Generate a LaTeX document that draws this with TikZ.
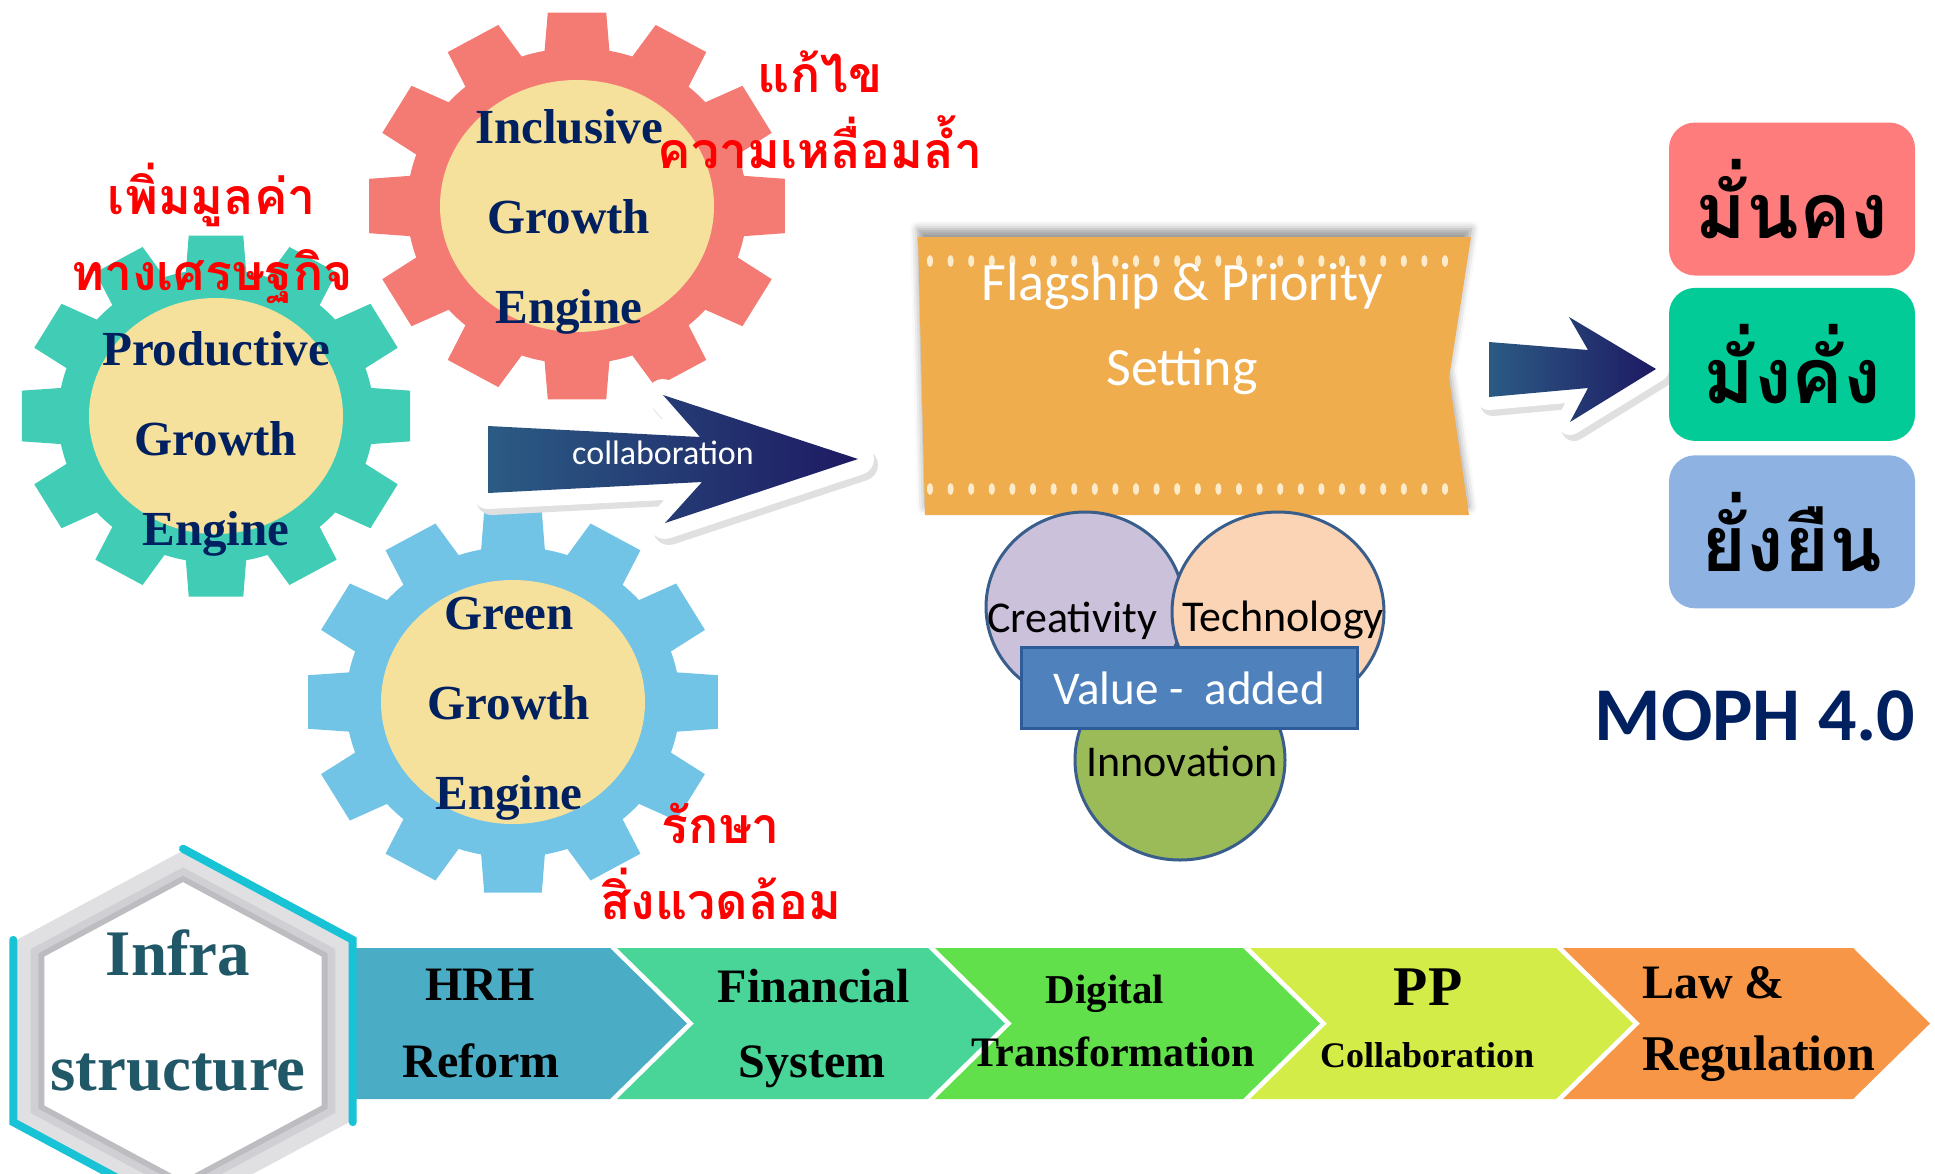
\documentclass[tikz,border=0pt]{standalone}
\usepackage{fontspec}
\setmainfont{Liberation Serif}
\newfontfamily\thaifont[Script=Thai]{Loma}
\newfontfamily\calib{Carlito}
\usetikzlibrary{positioning, shadows.blur}

\definecolor{gearred}{HTML}{F47B74}
\definecolor{gearteal}{HTML}{41CDB5}
\definecolor{gearblue}{HTML}{71C4E6}
\definecolor{gearcore}{HTML}{F5E09C}
\definecolor{navytext}{HTML}{002060}
\definecolor{flagorange}{HTML}{EFAD4E}
\definecolor{flagdot}{HTML}{FBEBCB}
\definecolor{arrowlight}{HTML}{2B5B84}
\definecolor{arrowdark}{HTML}{1E1A63}
\definecolor{boxred}{HTML}{FF7C7C}
\definecolor{boxgreen}{HTML}{02CB97}
\definecolor{boxblue}{HTML}{8EB3E2}
\definecolor{vennpurple}{HTML}{CCC1DA}
\definecolor{vennpeach}{HTML}{FAD4B4}
\definecolor{venngreen}{HTML}{9BBB59}
\definecolor{vennline}{HTML}{3A5E8C}
\definecolor{valuefill}{HTML}{4F81BD}
\definecolor{valueline}{HTML}{2E5C99}
\definecolor{chevA}{HTML}{4BACC6}
\definecolor{chevB}{HTML}{48D597}
\definecolor{chevC}{HTML}{62E04C}
\definecolor{chevD}{HTML}{D4EC48}
\definecolor{chevE}{HTML}{F79646}
\definecolor{infrateal}{HTML}{215868}
\definecolor{hexteal}{HTML}{19C3D6}
\definecolor{hexA}{HTML}{E0E0E3}
\definecolor{hexB}{HTML}{D0D0D4}
\definecolor{hexC}{HTML}{BCBCC1}

% centre, tip radius, root radius, colour
\newcommand{\gear}[4]{%
  \fill[#4, shift={#1}, yscale=0.93] (-11:#3)
    \foreach \a in {0,30,...,330} {
      -- (\a-11:#3) -- (\a-8:#2) -- (\a+8:#2) -- (\a+11:#3)
      arc[start angle=\a+11, end angle=\a+19, radius=#3]
    } -- cycle;
}

\begin{document}
\begin{tikzpicture}[x=1pt, y=-1pt, inner sep=0pt,
    gearlabel/.style={font=\bfseries\fontsize{49}{90}\selectfont, text=navytext, align=center},
    redthai/.style={font=\thaifont\bfseries\fontsize{50}{76}\selectfont, text=red, align=center},
    goalbox/.style={rounded corners=26pt, minimum width=246pt, minimum height=153pt,
        font=\thaifont\bfseries\fontsize{77}{80}\selectfont},
    venn/.style={draw=vennline, line width=3pt},
    vennlabel/.style={font=\calib\fontsize{44}{48}\selectfont, anchor=base},
    chevlabel/.style={font=\bfseries\fontsize{48}{50}\selectfont, anchor=base},
    blockarrow/.style={left color=arrowlight, right color=arrowdark},
    glow/.style={preaction={draw=black!12, line width=#1, line join=round,
        transform canvas={shift={(4pt,-6pt)}}},
      preaction={draw=white, line width=#1, line join=round}}]
\useasboundingbox (0,0) rectangle (1935,1173);

\gear{(577,206)}{210}{170}{gearred}
\fill[gearcore] (577,206) ellipse [x radius=137, y radius=126];
\gear{(216,416)}{196}{158}{gearteal}
\fill[gearcore] (216,416) ellipse [x radius=127, y radius=118];
\gear{(513,702)}{207}{167}{gearblue}
\fill[gearcore] (513,702) ellipse [x radius=132, y radius=122];

\node[gearlabel] (inclusive) at (569,222) {Inclusive\\Growth\\Engine};
\node[gearlabel] (productive) at (216,444) {Productive\\Growth\\Engine};
\node[gearlabel] (green) at (509,709) {Green\\Growth\\Engine};

\node[redthai] (econ) at (212,233) {เพิ่มมูลค่า\\ทางเศรษฐกิจ};
\node[redthai] (gap) at (820,110) {แก้ไข\\ความเหลื่อมล้ำ};
\node[redthai] (envir) at (721,861) {รักษา\\สิ่งแวดล้อม};

\path[blockarrow, glow=32pt] (488,426) -- (700,437) -- (663,395) -- (858,459)
  -- (665,523) -- (702,482) -- (488,493) -- cycle;
\node[font=\calib\fontsize{34}{36}\selectfont, text=white] (collab) at (663,453) {collaboration};

\fill[flagorange, blur shadow={shadow xshift=0pt, shadow yshift=8pt, shadow blur radius=8pt}]
  (918,237) -- (1471,237) -- (1449,378) -- (1469,515) -- (925,515) -- cycle;
\foreach \i in {0,...,25} {
  \fill[flagdot] (930+20.6*\i,261) ellipse [x radius=3, y radius=6];
  \fill[flagdot] (930+20.6*\i,489) ellipse [x radius=3, y radius=6];
}
\node[font=\calib\fontsize{54}{85}\selectfont, text=white, align=center] (flagship) at (1182,329)
  {Flagship \& Priority\\Setting};

\path[blockarrow, glow=26pt] (1489,342) -- (1588,350) -- (1569,317) -- (1656,369)
  -- (1570,422) -- (1588,388) -- (1489,397) -- cycle;

\node[goalbox, fill=boxred] (stable) at (1792,199) {มั่นคง};
\node[goalbox, fill=boxgreen, below=12pt of stable] (wealthy) {มั่งคั่ง};
\node[goalbox, fill=boxblue, below=14pt of wealthy] (lasting) {ยั่งยืน};

\draw[venn, fill=vennpurple] (1085,607) ellipse [x radius=99, y radius=95];
\draw[venn, fill=vennpeach] (1278,612) ellipse [x radius=106, y radius=100];
\draw[venn, fill=venngreen] (1180,760) ellipse [x radius=105, y radius=100];
\node[vennlabel] (creativity) at (1072,632) {Creativity};
\node[vennlabel] (technology) at (1283,631) {Technology};
\node[vennlabel] (innovation) at (1182,776) {Innovation};
\node[draw=valueline, line width=3pt, fill=valuefill, minimum width=336pt, minimum height=81pt,
  font=\calib\fontsize{47}{50}\selectfont, text=white] (value) at (1189,688) {Value -~ added};

\node[font=\calib\bfseries\fontsize{76}{80}\selectfont, text=navytext, anchor=base] (moph)
  at (1755,740) {MOPH 4.0};

\foreach \l/\r/\n/\c in {355/610/0/chevA, 617/928/77/chevB, 935/1243/77/chevC,
    1250/1556/77/chevD, 1563/1853/77/chevE}
  \fill[\c] (\l,948) -- (\r,948) -- (\r+77,1023.5) -- (\r,1099) -- (\l,1099)
    -- (\l+\n,1023.5) -- cycle;

\node[chevlabel] (hrh) at (480,1000) {HRH};
\node[chevlabel] (reform) at (481,1077) {Reform};
\node[chevlabel] (financial) at (814,1002) {Financial};
\node[chevlabel] (system) at (812,1077) {System};
\node[chevlabel, font=\bfseries\fontsize{41}{44}\selectfont] (digital) at (1105,1003) {Digital};
\node[chevlabel, font=\bfseries\fontsize{42}{44}\selectfont] (transform) at (1113,1066) {Transformation};
\node[chevlabel, font=\bfseries\fontsize{56}{60}\selectfont] (pp) at (1428,1005) {PP};
\node[chevlabel, font=\bfseries\fontsize{36}{40}\selectfont] (ppcollab) at (1427,1067) {Collaboration};
\node[chevlabel, anchor=base west] (law) at (1642,998) {Law \&};
\node[chevlabel, anchor=base west, font=\bfseries\fontsize{50}{54}\selectfont] (regulation) at (1642,1070) {Regulation};

\begin{scope}[shift={(183,1031)}, yscale=0.93]
  \foreach \r/\c in {194/hexA, 176/hexB, 167/hexC, 160/white}
    \fill[\c] (90:\r) -- (30:\r) -- (-30:\r) -- (-90:\r) -- (-150:\r) -- (150:\r) -- cycle;
  \draw[hexteal, line width=8pt, line cap=round] (-90:196) -- (-30:196) -- (30:196);
  \draw[hexteal, line width=8pt, line cap=round] (-150:196) -- (150:196) -- (90:196);
\end{scope}
\node[font=\bfseries\fontsize{65}{115}\selectfont, text=infrateal, align=center] (infra)
  at (178,1010) {Infra\\structure};
\end{tikzpicture}
\end{document}
